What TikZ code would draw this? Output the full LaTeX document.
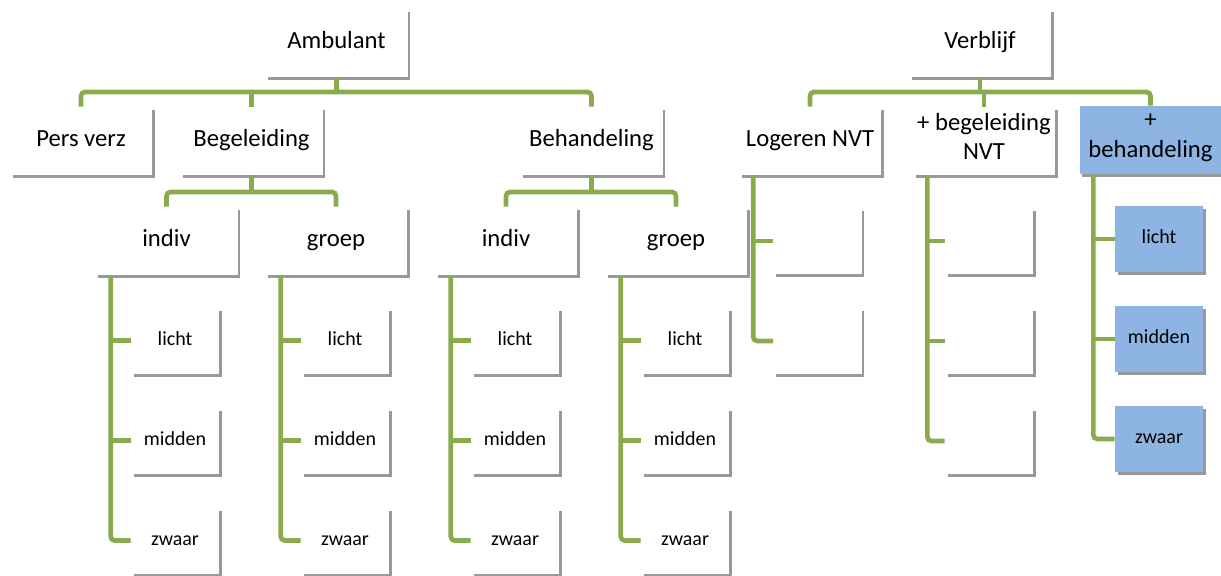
\documentclass[tikz,border=0pt]{standalone}
\usepackage{fontspec}
\setmainfont{Carlito}
\usetikzlibrary{shadows}
\definecolor{olijf}{RGB}{138,170,78}
\definecolor{lichtblauw}{RGB}{141,180,227}

\begin{document}
\begin{tikzpicture}[x=0.75pt,y=-0.75pt]
		\tikzstyle{every node}+=[inner sep=0pt]
		\tikzstyle{blok}=[rectangle, fill=white, minimum width=106.5pt, minimum height=51pt, align=center, font=\fontsize{18.5}{22}\selectfont, execute at begin node=\strut, execute at end node=\strut, drop shadow={shadow xshift=2.2pt, shadow yshift=-2.6pt, fill=black!40, opacity=1}]
		\tikzstyle{blad}=[blok, minimum width=66pt, minimum height=49.5pt, font=\fontsize{15}{18}\selectfont]
		\tikzstyle{lijn}=[olijf, line width=3.5pt, rounded corners=3pt]
		\useasboundingbox (0,0) rectangle (1221,575);
		\coordinate (busA) at (0,92);
		\coordinate (busB) at (0,192);
		% bovenste laag
		\node[blok] (amb) at (336.5,43) {Ambulant};
		\node[blok] (verb) at (980,43) {Verblijf};
		\node[blok] (pers) at (81,141) {Pers verz};
		\node[blok] (begel) at (251.5,141) {Begeleiding};
		\node[blok] (behand) at (591.5,141) {Behandeling};
		\node[blok] (loger) at (810,141) {Logeren NVT};
		\node[blok] (plusbeg) at (984,141) {+ begeleiding\\NVT};
		\node[blok, fill=lichtblauw] (plusbeh) at (1150.5,140) {+\\behandeling};
		\node[blok] (indivA) at (166.5,241) {indiv};
		\node[blok] (groepA) at (336,241) {groep};
		\node[blok] (indivB) at (506,241) {indiv};
		\node[blok] (groepB) at (676,241) {groep};
		\draw[lijn] (pers.north) |- (behand.north |- busA) -- (behand.north);
		\draw[lijn] (amb.south) -- (amb.south |- busA);
		\draw[lijn] (begel.north) -- (begel.north |- busA);
		\draw[lijn] (loger.north) |- (plusbeh.north |- busA) -- (plusbeh.north);
		\draw[lijn] (verb.south) -- (verb.south |- busA);
		\draw[lijn] (plusbeg.north) -- (plusbeg.north |- busA);
		\draw[lijn] (indivA.north) |- (groepA.north |- busB) -- (groepA.north);
		\draw[lijn] (begel.south) -- (begel.south |- busB);
		\draw[lijn] (indivB.north) |- (groepB.north |- busB) -- (groepB.north);
		\draw[lijn] (behand.south) -- (behand.south |- busB);
		% bladeren ambulant
		\foreach \k/\x in {indivA/175, groepA/345, indivB/515, groepB/685} {
			\foreach \naam [count=\i] in {licht,midden,zwaar}
				\node[blad] (\k-\i) at (\x,240.5+100*\i) {\naam};
			\coordinate (\k-s) at ([xshift=-15pt]\k-1.west);
			\draw[lijn] (\k-3.west) -| (\k-s |- \k.south);
			\foreach \i in {1,2}
				\draw[lijn] (\k-s |- \k-\i.west) -- (\k-\i.west);
		}
		% bladeren verblijf
		\foreach \i in {1,2}
			\node[blad] (loger-\i) at (817.5,141+100*\i) {};
		\coordinate (loger-s) at ([xshift=-15pt]loger-1.west);
		\draw[lijn] (loger-2.west) -| (loger-s |- loger.south);
		\draw[lijn] (loger-s |- loger-1.west) -- (loger-1.west);
		\foreach \i in {1,2,3}
			\node[blad] (plusbeg-\i) at (989,141+100*\i) {};
		\coordinate (plusbeg-s) at ([xshift=-13pt]plusbeg-1.west);
		\draw[lijn] (plusbeg-3.west) -| (plusbeg-s |- plusbeg.south);
		\foreach \i in {1,2}
			\draw[lijn] (plusbeg-s |- plusbeg-\i.west) -- (plusbeg-\i.west);
		\foreach \naam [count=\i] in {licht,midden,zwaar}
			\node[blad, fill=lichtblauw] (plusbeh-\i) at (1159,139+100*\i) {\naam};
		\coordinate (plusbeh-s) at ([xshift=-16pt]plusbeh-1.west);
		\draw[lijn] (plusbeh-3.west) -| (plusbeh-s |- plusbeh.south);
		\foreach \i in {1,2}
			\draw[lijn] (plusbeh-s |- plusbeh-\i.west) -- (plusbeh-\i.west);
	\end{tikzpicture}
\end{document}
